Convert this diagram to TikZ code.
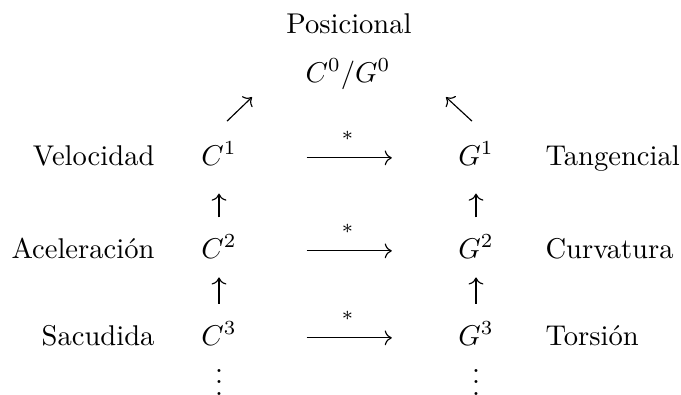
\documentclass[tikz,border=0pt]{standalone}
\usepackage{fontspec}
\usepackage{amsmath}
\usepackage{tikz}
\usetikzlibrary{arrows.meta}

\begin{document}
\begin{tikzpicture}[
  x=0.35pt, y=-0.35pt,
  lbl/.style   = {inner sep=0pt, anchor=base},
  lblL/.style  = {lbl, anchor=base east},
  lblR/.style  = {lbl, anchor=base west},
  mth/.style   = {inner sep=0pt, text height=5pt, text depth=0pt, anchor=base},
  arr/.style   = {-{Computer Modern Rightarrow}, line width=0.4pt},
  harr/.style  = {arr, shorten <=24.3pt, shorten >=23.1pt},
]
\useasboundingbox (0,0) rectangle (681,394);

%% Top
\node[lbl] (posic) at (349,33) {Posicional};
\node[lbl] (CG0)   at (348,82) {$C^0/G^0$};

%% Left and right columns
\node[mth] (C1) at (219,165) {$C^1$};
\node[mth] (C2) at (219,258) {$C^2$};
\node[mth] (C3) at (219,345) {$C^3$};
\node[mth] (G1) at (476,165) {$G^1$};
\node[mth] (G2) at (476,258) {$G^2$};
\node[mth] (G3) at (476,345) {$G^3$};
\node[lbl] (Cdots) at (219,395) {$\vdots$};
\node[lbl] (Gdots) at (476,395) {$\vdots$};

%% Names
\node[lblL] (vel)  at (155,165) {Velocidad};
\node[lblL] (acel) at (155,258) {Aceleración};
\node[lblL] (sacu) at (155,345) {Sacudida};
\node[lblR] (tang) at (545,165) {Tangencial};
\node[lblR] (curv) at (545,258) {Curvatura};
\node[lblR] (tors) at (545,345) {Torsión};

%% Arrows towards C0/G0
\draw[arr] ([shift={(8,-29)}]C1.north) -- ++(25,-24);
\draw[arr] ([shift={(-4,-29)}]G1.north) -- ++(-26,-24);

%% C^k -> G^k
\draw[harr] (C1) -- node[above=6pt, inner sep=0pt]{$\scriptstyle *$} (G1);
\draw[harr] (C2) -- node[above=6pt, inner sep=0pt]{$\scriptstyle *$} (G2);
\draw[harr] (C3) -- node[above=6pt, inner sep=0pt]{$\scriptstyle *$} (G3);

%% Upward arrows
\draw[arr, shorten <=9pt, shorten >=9.8pt] (C2) -- (C1);
\draw[arr, shorten <=9pt, shorten >=9.8pt] (G2) -- (G1);
\draw[arr, shorten <=9.3pt, shorten >=6.6pt] (C3) -- (C2);
\draw[arr, shorten <=9.3pt, shorten >=6.6pt] (G3) -- (G2);

\end{tikzpicture}
\end{document}
